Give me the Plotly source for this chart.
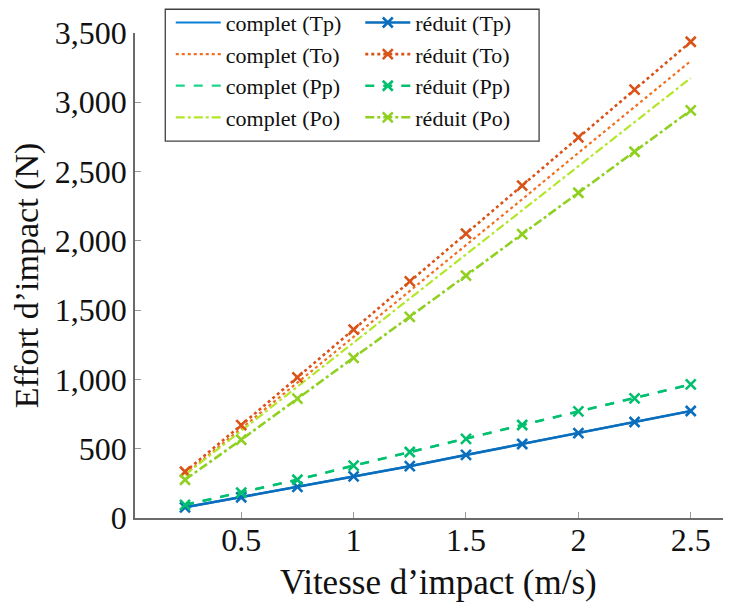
import plotly.graph_objects as go

vitesse = [0.25, 0.5, 0.75, 1.0, 1.25, 1.5, 1.75, 2.0, 2.25, 2.5]

complet_Tp = [77, 150, 225, 300, 374, 455, 534, 613, 693, 772]
complet_To = [315, 645, 975, 1305, 1640, 1970, 2300, 2635, 2965, 3298]
complet_Pp = [95, 183, 276, 378, 476, 571, 671, 769, 863, 964]
complet_Po = [311, 629, 947, 1265, 1584, 1902, 2220, 2538, 2857, 3175]

reduit_Tp = [77, 150, 225, 300, 374, 455, 534, 613, 693, 772]
reduit_To = [334, 670, 1015, 1359, 1708, 2052, 2399, 2747, 3091, 3437]
reduit_Pp = [95, 183, 276, 378, 476, 571, 671, 769, 863, 964]
reduit_Po = [276, 565, 861, 1155, 1451, 1749, 2049, 2347, 2643, 2942]

x_ticks = [0.5, 1, 1.5, 2, 2.5]
x_ticktext = ["0.5", "1", "1.5", "2", "2.5"]
y_ticks = [0, 500, 1000, 1500, 2000, 2500, 3000, 3500]

FONT = "'Liberation Serif', 'Times New Roman', 'DejaVu Serif', serif"

fig = go.Figure()

complet = [
    ("complet (Tp)", complet_Tp, "#0a80d8", "solid"),
    ("complet (To)", complet_To, "#f07020", "dot"),
    ("complet (Pp)", complet_Pp, "#1fd48c", "dash"),
    ("complet (Po)", complet_Po, "#b4e62a", "dashdot"),
]
reduit = [
    ("réduit (Tp)", reduit_Tp, "#0a6ebd", "solid"),
    ("réduit (To)", reduit_To, "#d95319", "dot"),
    ("réduit (Pp)", reduit_Pp, "#00bf6e", "dash"),
    ("réduit (Po)", reduit_Po, "#8fd020", "dashdot"),
]

for name, ys, col, dash in complet:
    fig.add_trace(go.Scatter(
        x=vitesse, y=ys, name=name, mode="lines",
        line=dict(color=col, width=2.2, dash=dash),
        legend="legend",
    ))
for name, ys, col, dash in reduit:
    fig.add_trace(go.Scatter(
        x=vitesse, y=ys, name=name, mode="lines+markers",
        line=dict(color=col, width=2.6, dash=dash),
        marker=dict(symbol="x-thin", size=10, line=dict(color=col, width=2.6)),
        legend="legend2",
    ))

axis_common = dict(
    showline=True, linecolor="#6a6a6a", linewidth=1.6,
    ticks="inside", ticklen=6, tickcolor="#9a9a9a", tickwidth=1.2,
    showgrid=False, zeroline=False, mirror=False,
    tickfont=dict(family=FONT, size=32, color="#111111"),
)

fig.update_layout(
    width=723, height=598,
    margin=dict(l=127, r=0, t=25, b=88, pad=0, autoexpand=False),
    paper_bgcolor="white", plot_bgcolor="white",
    font=dict(family=FONT, color="#111111"),
    xaxis=dict(
        range=[0.0275, 2.679], tickvals=x_ticks, ticktext=x_ticktext,
        automargin=False, ticklabelstandoff=-7,
        **axis_common,
    ),
    yaxis=dict(
        range=[0, 3500], tickvals=y_ticks, tickformat=",d",
        automargin=False,
        title=dict(text="Effort d’impact (N)", font=dict(family=FONT, size=34, color="#111111"), standoff=10),
        **axis_common,
    ),
    legend=dict(
        x=0.06, y=1.0645, xanchor="left", yanchor="top",
        bgcolor="rgba(0,0,0,0)", borderwidth=0,
        font=dict(family=FONT, size=22, color="#111111"),
        itemwidth=45, tracegroupgap=0,
    ),
    legend2=dict(
        x=0.378, y=1.0645, xanchor="left", yanchor="top",
        bgcolor="rgba(0,0,0,0)", borderwidth=0,
        font=dict(family=FONT, size=22, color="#111111"),
        itemwidth=45, tracegroupgap=0,
    ),
    shapes=[dict(
        type="rect", xref="paper", yref="paper",
        x0=0.0508, x1=0.678, y0=0.777, y1=1.049,
        line=dict(color="#404040", width=1.3), fillcolor="white", layer="below",
    )],
    annotations=[dict(
        text="Vitesse d’impact (m/s)", xref="paper", yref="paper",
        x=0.5086, y=-0.1334, xanchor="center", yanchor="middle", showarrow=False,
        font=dict(family=FONT, size=35, color="#111111"),
    )],
)

fig.write_html("out.html")
